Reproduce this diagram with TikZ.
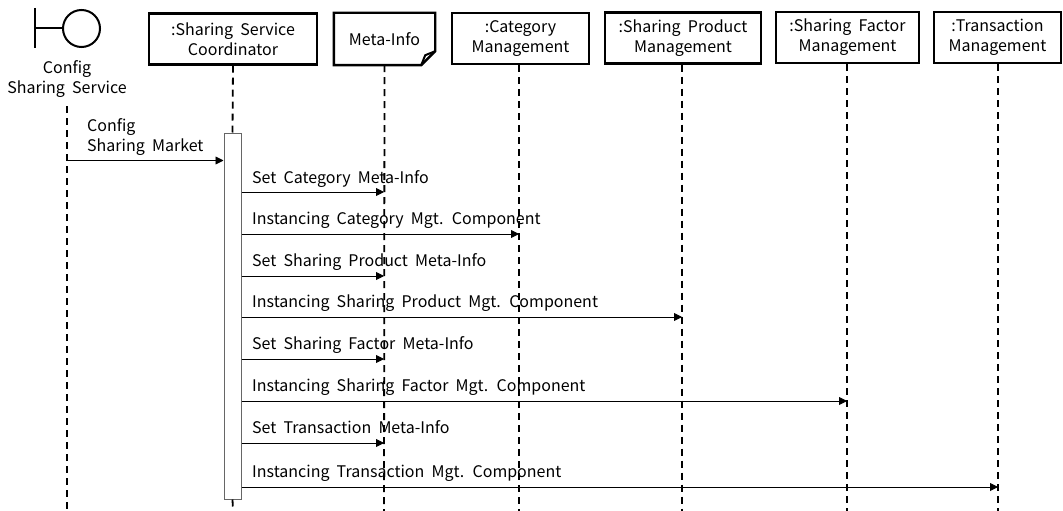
\documentclass[tikz,border=0pt]{standalone}
\usepackage{fontspec}
\setmainfont{Noto Sans CJK KR}
\usetikzlibrary{arrows.meta}
\newcommand{\diagfont}{\fontsize{16}{20}\selectfont\spaceskip=0.45em plus 0.1em minus 0.05em\relax}
\begin{document}
\begin{tikzpicture}[x=1pt,y=-1pt,
  every node/.style={font=\diagfont},
  obj/.style={draw,line width=2.4pt,minimum height=51pt,inner sep=0pt,align=center},
  life/.style={line width=1.8pt,dash pattern=on 7pt off 5pt},
  msg/.style={line width=0.9pt,-{Triangle[length=8pt,width=8pt]}},
  lbl/.style={anchor=base west,inner sep=0pt},
  act/.style={draw=black!60,fill=white,line width=1pt,minimum width=17pt,minimum height=366pt,inner sep=0pt}
]
\useasboundingbox (0,0) rectangle (1063,511);
% boundary
\draw[line width=2pt] (35,8) -- (35,48);
\draw[line width=2pt] (35,28.5) -- (63,28.5);
\draw[line width=2pt] (81.5,28.5) circle (18.5);
\node[inner sep=0pt,align=center,anchor=north] (cfg) at (67,60) {Config\\Sharing Service};
\coordinate (cfgTop) at (67,106);
\coordinate (cfgBot) at (67,511);
\draw[life] (cfgTop) -- (cfgBot);
% objects
\node[obj,minimum width=168pt] (coord) at (233,39) {:Sharing Service\\Coordinator};
\node[inner sep=0pt,minimum width=101pt,minimum height=52pt] (meta) at (384.5,39) {Meta-Info};
\draw[line width=2.4pt] (meta.north west) -- (meta.north east) -- ([yshift=14pt]meta.south east) -- ([xshift=-14pt]meta.south east) -- (meta.south west) -- cycle;
\draw[line width=2pt,line join=round] ([yshift=14pt]meta.south east) -- ([xshift=-10pt,yshift=10pt]meta.south east) -- ([xshift=-14pt]meta.south east);
\node[obj,minimum width=137pt] (cat) at (520.5,38.5) {:Category\\Management};
\node[obj,minimum width=156pt] (prod) at (683,38) {:Sharing Product\\Management};
\node[obj,minimum width=143pt] (fac) at (847.5,37.5) {:Sharing Factor\\Management};
\node[obj,minimum width=127pt] (trans) at (997.5,37.5) {:Transaction\\Management};
% activation
\node[act] (act) at (232.5,316) {};
% lifelines
\coordinate (coordB) at (233,511);
\coordinate (metaB) at (384,511);
\coordinate (catB) at (519,511);
\coordinate (prodB) at (682,511);
\coordinate (facB) at (847,511);
\coordinate (transB) at (998,511);
\draw[life] (coord.south) -- (act.north);
\draw[life] (act.south) -- (coordB);
\draw[life] (meta.south) -- (metaB);
\draw[life] (cat.south -| catB) -- (catB);
\draw[life] (prod.south -| prodB) -- (prodB);
\draw[life] (fac.south -| facB) -- (facB);
\draw[life] (trans.south -| transB) -- (transB);
% messages
\draw[msg] (cfgTop |- 0,160.5) -- (act.west |- 0,160.5);
\node[lbl] (m1a) at (87,131) {Config};
\node[lbl] (m1b) at (87,151) {Sharing Market};
\draw[msg] (act.east |- 0,192) -- (metaB |- 0,192);
\node[lbl] (m2) at (252,183) {Set Category Meta-Info};
\draw[msg] (act.east |- 0,234) -- (catB |- 0,234);
\node[lbl] (m3) at (252,224.5) {Instancing Category Mgt. Component};
\draw[msg] (act.east |- 0,276) -- (metaB |- 0,276);
\node[lbl] (m4) at (252,266.5) {Set Sharing Product Meta-Info};
\draw[msg] (act.east |- 0,317) -- (prodB |- 0,317);
\node[lbl] (m5) at (252,307.5) {Instancing Sharing Product Mgt. Component};
\draw[msg] (act.east |- 0,359) -- (metaB |- 0,359);
\node[lbl] (m6) at (252,349.5) {Set Sharing Factor Meta-Info};
\draw[msg] (act.east |- 0,401) -- (facB |- 0,401);
\node[lbl] (m7) at (252,391.5) {Instancing Sharing Factor Mgt. Component};
\draw[msg] (act.east |- 0,443) -- (metaB |- 0,443);
\node[lbl] (m8) at (252,433.5) {Set Transaction Meta-Info};
\draw[msg] (act.east |- 0,487) -- (transB |- 0,487);
\node[lbl] (m9) at (252,477.5) {Instancing Transaction Mgt. Component};
\end{tikzpicture}
\end{document}
